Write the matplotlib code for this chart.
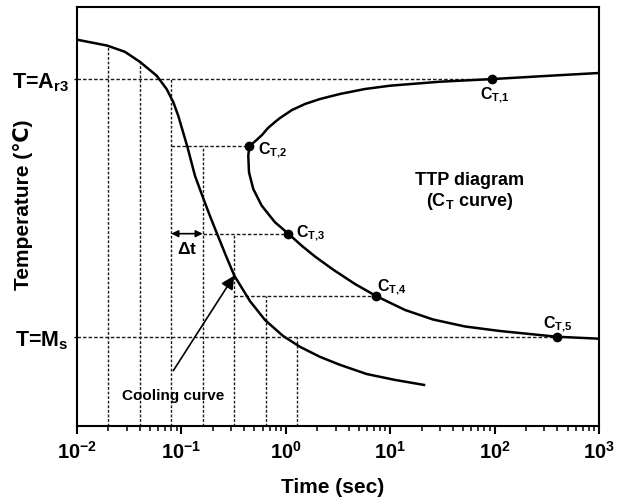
import numpy as np
import matplotlib
matplotlib.use("Agg")
import matplotlib.pyplot as plt

plt.rcParams['font.family'] = ['Liberation Sans', 'DejaVu Sans']
plt.rcParams['font.weight'] = 'bold'
plt.rcParams['axes.labelweight'] = 'bold'
plt.rcParams['axes.unicode_minus'] = False
plt.rcParams['mathtext.fontset'] = 'custom'
plt.rcParams['mathtext.rm'] = 'Liberation Sans:bold'
plt.rcParams['mathtext.it'] = 'Liberation Sans:bold'
plt.rcParams['mathtext.bf'] = 'Liberation Sans:bold'
plt.rcParams['mathtext.default'] = 'regular'

# temperature levels (arbitrary units, 0 = bottom of plot, 100 = top)
T_ar3 = 82.8
T_ms = 21.3
T_lvl2 = 66.8
T_lvl3 = 45.9
T_lvl4 = 31.0

# cooling curve (time in s, temperature)
cool_t = [0.0100, 0.0194, 0.0288, 0.0401, 0.0580, 0.0723, 0.0836, 0.0934, 0.1139,
          0.1350, 0.1600, 0.1879, 0.2178, 0.2675, 0.321, 0.454, 0.632, 0.940,
          1.368, 2.126, 3.30, 5.96, 11.1, 21.1]
cool_T = [92.2, 90.8, 89.3, 86.9, 83.6, 80.4, 77.3, 74.0, 66.7,
          59.7, 54.7, 50.1, 46.1, 40.6, 35.9, 29.8, 25.3, 21.5,
          18.9, 16.5, 14.6, 12.4, 11.0, 9.8]

# C_T curve (TTP diagram), from top right round the nose to bottom right
ct_t = [1000, 339.5, 95, 30.0, 9.96, 5.735, 3.30, 2.126, 1.527, 1.147, 0.880,
        0.788, 0.675, 0.5915, 0.5183, 0.4746, 0.447,
        0.4372, 0.4441, 0.488, 0.588, 0.788, 1.057, 1.42, 1.904, 2.83, 4.60,
        7.36, 13.9, 25.7, 52.06, 112.7, 396, 1000]
ct_T = [84.25, 83.6, 82.8, 82.17, 81.22, 80.43, 79.24, 78.04, 76.85, 75.42, 73.51,
        72.55, 71.12, 69.45, 68.14, 67.30, 66.8,
        64.51, 60.55, 56.56, 52.58, 48.62, 45.9, 43.03, 40.45, 37.35, 33.89,
        31.0, 27.68, 25.42, 23.75, 22.67, 21.3, 20.84]

# marked points C_T,1 .. C_T,5
pt_t = [95, 0.447, 1.057, 7.36, 396]
pt_T = [T_ar3, T_lvl2, T_lvl3, T_lvl4, T_ms]

# construction lines
vert_t = [0.02, 0.04, 0.08, 0.16, 0.32, 0.64, 1.28]
vert_top = [90.8, 86.9, T_ar3, T_lvl2, T_lvl3, T_lvl4, T_ms]
horiz_T = [T_ar3, T_lvl2, T_lvl3, T_lvl4, T_ms]
horiz_from = [0.01, 0.08, 0.16, 0.32, 0.01]
horiz_to = [95, 0.447, 1.057, 7.36, 396]

fig = plt.figure(figsize=(6.29, 5.02), dpi=100)
ax = fig.add_axes([77/629, 75/502, 522/629, 419/502])
ax.set_xscale('log')
ax.set_xlim(1e-2, 1e3)
ax.set_ylim(0, 100)

for x, top in zip(vert_t, vert_top):
    ax.plot([x, x], [0, top], color='0.1', lw=1.0, ls=(0, (2, 1.3)))
for y, a, b in zip(horiz_T, horiz_from, horiz_to):
    ax.plot([a, b], [y, y], color='0.1', lw=1.0, ls=(0, (2.5, 1.5)))

ax.plot(cool_t, cool_T, color='k', lw=1.8, solid_joinstyle='round')
ax.plot(ct_t, ct_T, color='k', lw=1.8, solid_joinstyle='round')
ax.plot(pt_t, pt_T, 'o', color='k', ms=6)

lab_fs = 11.5
ax.text(100, 79.2, r'$\mathregular{C_{T{,}1}}$', fontsize=lab_fs, ha='center', va='center')
ax.text(0.542, 66.1, r'$\mathregular{C_{T{,}2}}$', fontsize=lab_fs, ha='left', va='center')
ax.text(1.252, 46.3, r'$\mathregular{C_{T{,}3}}$', fontsize=lab_fs, ha='left', va='center')
ax.text(7.47, 33.4, r'$\mathregular{C_{T{,}4}}$', fontsize=lab_fs, ha='left', va='center')
ax.text(404, 24.6, r'$\mathregular{C_{T{,}5}}$', fontsize=lab_fs, ha='center', va='center')

ax.text(58, 58.9, 'TTP diagram', fontsize=13, ha='center', va='center')
ax.text(58, 53.7, r'($\mathregular{C_T}$ curve)', fontsize=13, ha='center', va='center')

# delta t arrow
ax.annotate('', xy=(0.16, T_lvl3), xytext=(0.08, T_lvl3),
            arrowprops=dict(arrowstyle='<|-|>', color='k', lw=1.2,
                            mutation_scale=10, shrinkA=0, shrinkB=0))
ax.text(0.113, 42.5, r'$\mathregular{\Delta t}$', fontsize=12.5, ha='center', va='center')

# cooling curve pointer
ax.annotate('', xy=(0.321, 35.9), xytext=(0.0836, 13.2),
            arrowprops=dict(arrowstyle='-|>', color='k', lw=1.2,
                            mutation_scale=20, shrinkA=0, shrinkB=0))
ax.text(0.0836, 7.4, 'Cooling curve', fontsize=11, ha='center', va='center')

for s in ax.spines.values():
    s.set_linewidth(1.5)
ax.tick_params(axis='x', which='major', direction='out', length=6, width=1.5,
               labelsize=14.5, pad=4)
ax.tick_params(axis='x', which='minor', direction='out', length=3.5, width=1.1)
ax.set_yticks([T_ms, T_ar3])
ax.set_yticklabels(['T=M$_s$', 'T=A$_{r3}$'])
ax.tick_params(axis='y', direction='out', length=2, width=1, labelsize=15.5, pad=4)

ax.set_xlabel('Time (sec)', fontsize=15)
ax.xaxis.set_label_coords(0.49, -0.122)
ax.set_ylabel('Temperature (\u2103)', fontsize=15)
ax.yaxis.set_label_coords(-0.085, 0.53)

fig.savefig('out.png', dpi=100)
